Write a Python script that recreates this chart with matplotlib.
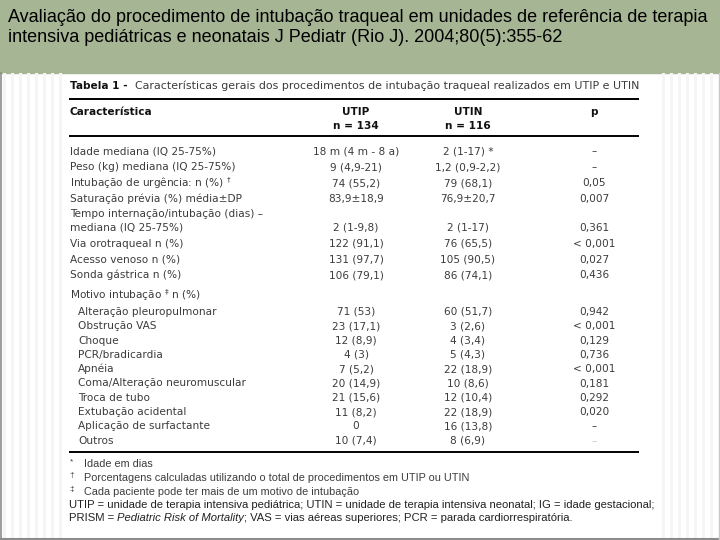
import matplotlib
matplotlib.use("Agg")
import matplotlib.pyplot as plt
from matplotlib.patches import Rectangle

# ---------------- data ----------------
title_lines = [
    "Avaliação do procedimento de intubação traqueal em unidades de referência de terapia",
    "intensiva pediátricas e neonatais J Pediatr (Rio J). 2004;80(5):355-62",
]
table_title_bold = "Tabela 1 -"
table_title_rest = "  Características gerais dos procedimentos de intubação traqueal realizados em UTIP e UTIN"
col_headers = ["Característica", "UTIP\nn = 134", "UTIN\nn = 116", "p"]

general_labels = [
    "Idade mediana (IQ 25-75%)",
    "Peso (kg) mediana (IQ 25-75%)",
    "Intubação de urgência: n (%) $^{\\dagger}$",
    "Saturação prévia (%) média±DP",
    "Tempo internação/intubação (dias) –\nmediana (IQ 25-75%)",
    "Via orotraqueal n (%)",
    "Acesso venoso n (%)",
    "Sonda gástrica n (%)",
]
general_utip = ["18 m (4 m - 8 a)", "9 (4,9-21)", "74 (55,2)", "83,9±18,9",
                "2 (1-9,8)", "122 (91,1)", "131 (97,7)", "106 (79,1)"]
general_utin = ["2 (1-17) *", "1,2 (0,9-2,2)", "79 (68,1)", "76,9±20,7",
                "2 (1-17)", "76 (65,5)", "105 (90,5)", "86 (74,1)"]
general_p = ["–", "–", "0,05", "0,007", "0,361", "< 0,001", "0,027", "0,436"]

motivo_header = "Motivo intubação $^{\\ddagger}$ n (%)"
motivo_labels = ["Alteração pleuropulmonar", "Obstrução VAS", "Choque", "PCR/bradicardia",
                 "Apnéia", "Coma/Alteração neuromuscular", "Troca de tubo",
                 "Extubação acidental", "Aplicação de surfactante", "Outros"]
motivo_utip = ["71 (53)", "23 (17,1)", "12 (8,9)", "4 (3)", "7 (5,2)", "20 (14,9)",
               "21 (15,6)", "11 (8,2)", "0", "10 (7,4)"]
motivo_utin = ["60 (51,7)", "3 (2,6)", "4 (3,4)", "5 (4,3)", "22 (18,9)", "10 (8,6)",
               "12 (10,4)", "22 (18,9)", "16 (13,8)", "8 (6,9)"]
motivo_p = ["0,942", "< 0,001", "0,129", "0,736", "< 0,001", "0,181", "0,292",
            "0,020", "–", "–"]

footnote_marks = ["*", "†", "‡"]
footnote_texts = ["Idade em dias",
                  "Porcentagens calculadas utilizando o total de procedimentos em UTIP ou UTIN",
                  "Cada paciente pode ter mais de um motivo de intubação"]
abbrev_line1 = ("UTIP = unidade de terapia intensiva pediátrica; UTIN = unidade de terapia "
                "intensiva neonatal; IG = idade gestacional;")
abbrev_line2_a = "PRISM = "
abbrev_line2_b = "Pediatric Risk of Mortality"
abbrev_line2_c = "; VAS = vias aéreas superiores; PCR = parada cardiorrespiratória."

# ---------------- figure ----------------
W, H = 720, 540
fig = plt.figure(figsize=(7.2, 5.4), dpi=100)
fig.patch.set_facecolor("white")
ax = fig.add_axes([0, 0, 1, 1])
ax.set_xlim(0, W)
ax.set_ylim(H, 0)
ax.axis("off")

GREEN = "#a6b594"
ax.add_patch(Rectangle((0, 0), W, 73, color=GREEN, zorder=0))

# faint vertical stripes on both sides
for x0 in range(3, 62, 8):
    ax.add_patch(Rectangle((x0, 73), 3, H - 73, color="#f5f5f5", lw=0, zorder=0))
for x0 in range(662, 718, 8):
    ax.add_patch(Rectangle((x0, 73), 3, H - 73, color="#f5f5f5", lw=0, zorder=0))

# gray frame
ax.plot([0.8, 0.8], [73, H - 1], color="#8c8c8c", lw=1.2)
ax.plot([0, W], [H - 1.5, H - 1.5], color="#8c8c8c", lw=1.5)
ax.plot([W - 0.8, W - 0.8], [73, H - 1], color="#c8c8c8", lw=1.0)

fig.canvas.draw()
r = fig.canvas.get_renderer()

# title: fit first line to the available width
TFONT = ["Liberation Sans", "DejaVu Sans"]
probe = ax.text(8, 16, title_lines[0], fontsize=12, family=TFONT, va="center", ha="left")
w12 = probe.get_window_extent(renderer=r).width
probe.remove()
tfs = 12 * 704 / w12
for i, line in enumerate(title_lines):
    ax.text(8, 17 + 21 * i, line, fontsize=tfs, family=TFONT, color="black",
            va="center", ha="left")

BODY = "#3c3c3c"
FS = 7.6
fam = ["DejaVu Sans"]

# table title
t1 = ax.text(70, 86, table_title_bold, fontsize=FS, weight="bold", family=fam,
             color="#111111", va="center", ha="left")
bb = t1.get_window_extent(renderer=r)
ax.text(70 + bb.width, 86, table_title_rest, fontsize=7.9, family=fam, color=BODY,
        va="center", ha="left")

X0, X1 = 69, 639
XU, XN, XP = 356, 468, 594
# rules
for yy in (99, 136, 452):
    ax.plot([X0, X1], [yy, yy], color="black", lw=1.4, solid_capstyle="butt")

# headers
ax.text(70, 112, col_headers[0], fontsize=FS, weight="bold", family=fam,
        color="#111111", va="center", ha="left")
for xc, h in zip((XU, XN, XP), col_headers[1:]):
    parts = h.split("\n")
    ax.text(xc, 112, parts[0], fontsize=FS, weight="bold", family=fam,
            color="#111111", va="center", ha="center")
    if len(parts) > 1:
        ax.text(xc, 126, parts[1], fontsize=FS, weight="bold", family=fam,
                color="#111111", va="center", ha="center")

# general rows
gen_y = [151, 167, 183, 199, 228, 244, 260, 275]
for yy, lab, u, n, p in zip(gen_y, general_labels, general_utip, general_utin, general_p):
    if "\n" in lab:
        a, b = lab.split("\n")
        ax.text(70, yy - 14, a, fontsize=FS, family=fam, color=BODY, va="center")
        ax.text(70, yy, b, fontsize=FS, family=fam, color=BODY, va="center")
    else:
        ax.text(70, yy, lab, fontsize=FS, family=fam, color=BODY, va="center")
    ax.text(XU, yy, u, fontsize=FS, family=fam, color=BODY, va="center", ha="center")
    ax.text(XN, yy, n, fontsize=FS, family=fam, color=BODY, va="center", ha="center")
    ax.text(XP, yy, p, fontsize=FS, family=fam, color=BODY, va="center", ha="center")

ax.text(70, 295, motivo_header, fontsize=FS, family=fam, color=BODY, va="center")
mot_y0, mot_dy = 312, 14.3
for i, (lab, u, n, p) in enumerate(zip(motivo_labels, motivo_utip, motivo_utin, motivo_p)):
    yy = mot_y0 + i * mot_dy
    ax.text(78, yy, lab, fontsize=FS, family=fam, color=BODY, va="center")
    ax.text(XU, yy, u, fontsize=FS, family=fam, color=BODY, va="center", ha="center")
    ax.text(XN, yy, n, fontsize=FS, family=fam, color=BODY, va="center", ha="center")
    pc = "#c8c8c8" if i == len(motivo_labels) - 1 else BODY
    ax.text(XP, yy, p, fontsize=FS, family=fam, color=pc, va="center", ha="center")

# footnotes
FFAM = ["Liberation Sans", "DejaVu Sans"]
FFS = 7.85
for i, (m, t) in enumerate(zip(footnote_marks, footnote_texts)):
    yy = 464 + 14 * i
    ax.text(72, yy - 2, m, fontsize=6, family=FFAM, color=BODY, va="center", ha="center")
    ax.text(84, yy, t, fontsize=FFS, family=FFAM, color=BODY, va="center")
AFS = 8.15
ax.text(69, 505, abbrev_line1, fontsize=AFS, family=FFAM, color="#222222", va="center")
ta = ax.text(69, 518, abbrev_line2_a, fontsize=AFS, family=FFAM, color="#222222", va="center")
wa = ta.get_window_extent(renderer=r).width
tb = ax.text(69 + wa, 518, abbrev_line2_b, fontsize=AFS, family=FFAM, style="italic",
             color="#222222", va="center")
wb = tb.get_window_extent(renderer=r).width
ax.text(69 + wa + wb, 518, abbrev_line2_c, fontsize=AFS, family=FFAM, color="#222222",
        va="center")

fig.savefig("out.png", dpi=100, facecolor=fig.get_facecolor())
